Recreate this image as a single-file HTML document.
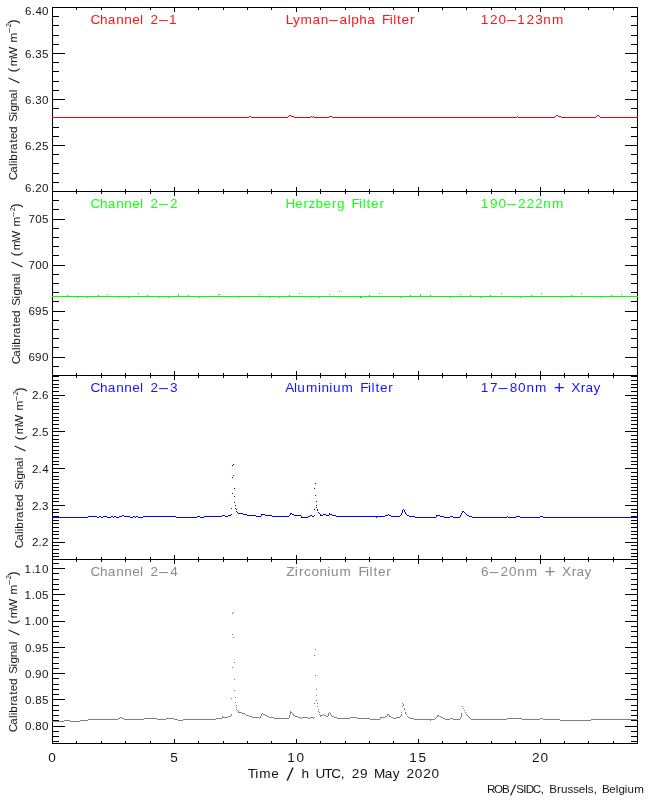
<!DOCTYPE html>
<html lang="en"><head><meta charset="utf-8"><title>Calibrated Signal, 29 May 2020</title>
<style>html,body{margin:0;padding:0;background:#fff;overflow:hidden}svg{display:block;will-change:transform}text{white-space:pre}</style></head>
<body>
<svg width="650" height="800" viewBox="0 0 650 800">
<g shape-rendering="crispEdges">
<path fill="#000" d="M52 7h586v1h-586zM52 191h586v1h-586zM52 375h586v1h-586zM52 559h586v1h-586zM52 743h586v1h-586zM52 7h1v737h-1zM637 7h1v737h-1zM76 8h1v2h-1zM76 189h1v2h-1zM76 192h1v2h-1zM76 373h1v2h-1zM76 376h1v2h-1zM76 557h1v2h-1zM76 560h1v2h-1zM76 741h1v2h-1zM101 8h1v2h-1zM101 189h1v2h-1zM101 192h1v2h-1zM101 373h1v2h-1zM101 376h1v2h-1zM101 557h1v2h-1zM101 560h1v2h-1zM101 741h1v2h-1zM125 8h1v2h-1zM125 189h1v2h-1zM125 192h1v2h-1zM125 373h1v2h-1zM125 376h1v2h-1zM125 557h1v2h-1zM125 560h1v2h-1zM125 741h1v2h-1zM150 8h1v2h-1zM150 189h1v2h-1zM150 192h1v2h-1zM150 373h1v2h-1zM150 376h1v2h-1zM150 557h1v2h-1zM150 560h1v2h-1zM150 741h1v2h-1zM174 8h1v4h-1zM174 187h1v4h-1zM174 192h1v4h-1zM174 371h1v4h-1zM174 376h1v4h-1zM174 555h1v4h-1zM174 560h1v4h-1zM174 739h1v4h-1zM198 8h1v2h-1zM198 189h1v2h-1zM198 192h1v2h-1zM198 373h1v2h-1zM198 376h1v2h-1zM198 557h1v2h-1zM198 560h1v2h-1zM198 741h1v2h-1zM223 8h1v2h-1zM223 189h1v2h-1zM223 192h1v2h-1zM223 373h1v2h-1zM223 376h1v2h-1zM223 557h1v2h-1zM223 560h1v2h-1zM223 741h1v2h-1zM247 8h1v2h-1zM247 189h1v2h-1zM247 192h1v2h-1zM247 373h1v2h-1zM247 376h1v2h-1zM247 557h1v2h-1zM247 560h1v2h-1zM247 741h1v2h-1zM271 8h1v2h-1zM271 189h1v2h-1zM271 192h1v2h-1zM271 373h1v2h-1zM271 376h1v2h-1zM271 557h1v2h-1zM271 560h1v2h-1zM271 741h1v2h-1zM296 8h1v4h-1zM296 187h1v4h-1zM296 192h1v4h-1zM296 371h1v4h-1zM296 376h1v4h-1zM296 555h1v4h-1zM296 560h1v4h-1zM296 739h1v4h-1zM320 8h1v2h-1zM320 189h1v2h-1zM320 192h1v2h-1zM320 373h1v2h-1zM320 376h1v2h-1zM320 557h1v2h-1zM320 560h1v2h-1zM320 741h1v2h-1zM345 8h1v2h-1zM345 189h1v2h-1zM345 192h1v2h-1zM345 373h1v2h-1zM345 376h1v2h-1zM345 557h1v2h-1zM345 560h1v2h-1zM345 741h1v2h-1zM369 8h1v2h-1zM369 189h1v2h-1zM369 192h1v2h-1zM369 373h1v2h-1zM369 376h1v2h-1zM369 557h1v2h-1zM369 560h1v2h-1zM369 741h1v2h-1zM393 8h1v2h-1zM393 189h1v2h-1zM393 192h1v2h-1zM393 373h1v2h-1zM393 376h1v2h-1zM393 557h1v2h-1zM393 560h1v2h-1zM393 741h1v2h-1zM418 8h1v4h-1zM418 187h1v4h-1zM418 192h1v4h-1zM418 371h1v4h-1zM418 376h1v4h-1zM418 555h1v4h-1zM418 560h1v4h-1zM418 739h1v4h-1zM442 8h1v2h-1zM442 189h1v2h-1zM442 192h1v2h-1zM442 373h1v2h-1zM442 376h1v2h-1zM442 557h1v2h-1zM442 560h1v2h-1zM442 741h1v2h-1zM466 8h1v2h-1zM466 189h1v2h-1zM466 192h1v2h-1zM466 373h1v2h-1zM466 376h1v2h-1zM466 557h1v2h-1zM466 560h1v2h-1zM466 741h1v2h-1zM491 8h1v2h-1zM491 189h1v2h-1zM491 192h1v2h-1zM491 373h1v2h-1zM491 376h1v2h-1zM491 557h1v2h-1zM491 560h1v2h-1zM491 741h1v2h-1zM515 8h1v2h-1zM515 189h1v2h-1zM515 192h1v2h-1zM515 373h1v2h-1zM515 376h1v2h-1zM515 557h1v2h-1zM515 560h1v2h-1zM515 741h1v2h-1zM540 8h1v4h-1zM540 187h1v4h-1zM540 192h1v4h-1zM540 371h1v4h-1zM540 376h1v4h-1zM540 555h1v4h-1zM540 560h1v4h-1zM540 739h1v4h-1zM564 8h1v2h-1zM564 189h1v2h-1zM564 192h1v2h-1zM564 373h1v2h-1zM564 376h1v2h-1zM564 557h1v2h-1zM564 560h1v2h-1zM564 741h1v2h-1zM588 8h1v2h-1zM588 189h1v2h-1zM588 192h1v2h-1zM588 373h1v2h-1zM588 376h1v2h-1zM588 557h1v2h-1zM588 560h1v2h-1zM588 741h1v2h-1zM613 8h1v2h-1zM613 189h1v2h-1zM613 192h1v2h-1zM613 373h1v2h-1zM613 376h1v2h-1zM613 557h1v2h-1zM613 560h1v2h-1zM613 741h1v2h-1zM53 16h6v1h-6zM631 16h6v1h-6zM53 25h6v1h-6zM631 25h6v1h-6zM53 35h6v1h-6zM631 35h6v1h-6zM53 44h6v1h-6zM631 44h6v1h-6zM53 53h12v1h-12zM625 53h12v1h-12zM53 62h6v1h-6zM631 62h6v1h-6zM53 71h6v1h-6zM631 71h6v1h-6zM53 81h6v1h-6zM631 81h6v1h-6zM53 90h6v1h-6zM631 90h6v1h-6zM53 99h12v1h-12zM625 99h12v1h-12zM53 108h6v1h-6zM631 108h6v1h-6zM53 117h6v1h-6zM631 117h6v1h-6zM53 127h6v1h-6zM631 127h6v1h-6zM53 136h6v1h-6zM631 136h6v1h-6zM53 145h12v1h-12zM625 145h12v1h-12zM53 154h6v1h-6zM631 154h6v1h-6zM53 163h6v1h-6zM631 163h6v1h-6zM53 173h6v1h-6zM631 173h6v1h-6zM53 182h6v1h-6zM631 182h6v1h-6zM53 200h6v1h-6zM631 200h6v1h-6zM53 209h6v1h-6zM631 209h6v1h-6zM53 219h12v1h-12zM625 219h12v1h-12zM53 228h6v1h-6zM631 228h6v1h-6zM53 237h6v1h-6zM631 237h6v1h-6zM53 246h6v1h-6zM631 246h6v1h-6zM53 255h6v1h-6zM631 255h6v1h-6zM53 265h12v1h-12zM625 265h12v1h-12zM53 274h6v1h-6zM631 274h6v1h-6zM53 283h6v1h-6zM631 283h6v1h-6zM53 292h6v1h-6zM631 292h6v1h-6zM53 301h6v1h-6zM631 301h6v1h-6zM53 311h12v1h-12zM625 311h12v1h-12zM53 320h6v1h-6zM631 320h6v1h-6zM53 329h6v1h-6zM631 329h6v1h-6zM53 338h6v1h-6zM631 338h6v1h-6zM53 347h6v1h-6zM631 347h6v1h-6zM53 357h12v1h-12zM625 357h12v1h-12zM53 366h6v1h-6zM631 366h6v1h-6zM53 556h6v1h-6zM631 556h6v1h-6zM53 553h6v1h-6zM631 553h6v1h-6zM53 549h6v1h-6zM631 549h6v1h-6zM53 545h6v1h-6zM631 545h6v1h-6zM53 542h12v1h-12zM625 542h12v1h-12zM53 538h6v1h-6zM631 538h6v1h-6zM53 534h6v1h-6zM631 534h6v1h-6zM53 531h6v1h-6zM631 531h6v1h-6zM53 527h6v1h-6zM631 527h6v1h-6zM53 523h6v1h-6zM631 523h6v1h-6zM53 520h6v1h-6zM631 520h6v1h-6zM53 516h6v1h-6zM631 516h6v1h-6zM53 512h6v1h-6zM631 512h6v1h-6zM53 509h6v1h-6zM631 509h6v1h-6zM53 505h12v1h-12zM625 505h12v1h-12zM53 501h6v1h-6zM631 501h6v1h-6zM53 498h6v1h-6zM631 498h6v1h-6zM53 494h6v1h-6zM631 494h6v1h-6zM53 490h6v1h-6zM631 490h6v1h-6zM53 487h6v1h-6zM631 487h6v1h-6zM53 483h6v1h-6zM631 483h6v1h-6zM53 479h6v1h-6zM631 479h6v1h-6zM53 476h6v1h-6zM631 476h6v1h-6zM53 472h6v1h-6zM631 472h6v1h-6zM53 468h12v1h-12zM625 468h12v1h-12zM53 464h6v1h-6zM631 464h6v1h-6zM53 461h6v1h-6zM631 461h6v1h-6zM53 457h6v1h-6zM631 457h6v1h-6zM53 453h6v1h-6zM631 453h6v1h-6zM53 450h6v1h-6zM631 450h6v1h-6zM53 446h6v1h-6zM631 446h6v1h-6zM53 442h6v1h-6zM631 442h6v1h-6zM53 439h6v1h-6zM631 439h6v1h-6zM53 435h6v1h-6zM631 435h6v1h-6zM53 431h12v1h-12zM625 431h12v1h-12zM53 428h6v1h-6zM631 428h6v1h-6zM53 424h6v1h-6zM631 424h6v1h-6zM53 420h6v1h-6zM631 420h6v1h-6zM53 417h6v1h-6zM631 417h6v1h-6zM53 413h6v1h-6zM631 413h6v1h-6zM53 409h6v1h-6zM631 409h6v1h-6zM53 406h6v1h-6zM631 406h6v1h-6zM53 402h6v1h-6zM631 402h6v1h-6zM53 398h6v1h-6zM631 398h6v1h-6zM53 395h12v1h-12zM625 395h12v1h-12zM53 391h6v1h-6zM631 391h6v1h-6zM53 387h6v1h-6zM631 387h6v1h-6zM53 384h6v1h-6zM631 384h6v1h-6zM53 380h6v1h-6zM631 380h6v1h-6zM53 376h6v1h-6zM631 376h6v1h-6zM53 741h6v1h-6zM631 741h6v1h-6zM53 736h6v1h-6zM631 736h6v1h-6zM53 731h6v1h-6zM631 731h6v1h-6zM53 726h12v1h-12zM625 726h12v1h-12zM53 720h6v1h-6zM631 720h6v1h-6zM53 715h6v1h-6zM631 715h6v1h-6zM53 710h6v1h-6zM631 710h6v1h-6zM53 705h6v1h-6zM631 705h6v1h-6zM53 699h12v1h-12zM625 699h12v1h-12zM53 694h6v1h-6zM631 694h6v1h-6zM53 689h6v1h-6zM631 689h6v1h-6zM53 684h6v1h-6zM631 684h6v1h-6zM53 678h6v1h-6zM631 678h6v1h-6zM53 673h12v1h-12zM625 673h12v1h-12zM53 668h6v1h-6zM631 668h6v1h-6zM53 663h6v1h-6zM631 663h6v1h-6zM53 657h6v1h-6zM631 657h6v1h-6zM53 652h6v1h-6zM631 652h6v1h-6zM53 647h12v1h-12zM625 647h12v1h-12zM53 642h6v1h-6zM631 642h6v1h-6zM53 636h6v1h-6zM631 636h6v1h-6zM53 631h6v1h-6zM631 631h6v1h-6zM53 626h6v1h-6zM631 626h6v1h-6zM53 621h12v1h-12zM625 621h12v1h-12zM53 615h6v1h-6zM631 615h6v1h-6zM53 610h6v1h-6zM631 610h6v1h-6zM53 605h6v1h-6zM631 605h6v1h-6zM53 600h6v1h-6zM631 600h6v1h-6zM53 594h12v1h-12zM625 594h12v1h-12zM53 589h6v1h-6zM631 589h6v1h-6zM53 584h6v1h-6zM631 584h6v1h-6zM53 579h6v1h-6zM631 579h6v1h-6zM53 573h6v1h-6zM631 573h6v1h-6zM53 568h12v1h-12zM625 568h12v1h-12zM53 563h6v1h-6zM631 563h6v1h-6z"/>
<path fill="#ff0000" d="M52 117h1v1h-1zM53 117h1v1h-1zM54 117h1v1h-1zM55 117h1v1h-1zM56 117h1v1h-1zM57 117h1v1h-1zM58 117h1v1h-1zM59 117h1v1h-1zM60 117h1v1h-1zM61 117h1v1h-1zM62 117h1v1h-1zM63 117h1v1h-1zM64 117h1v1h-1zM65 117h1v1h-1zM66 117h1v1h-1zM67 117h1v1h-1zM68 117h1v1h-1zM69 117h1v1h-1zM70 117h1v1h-1zM71 117h1v1h-1zM72 117h1v1h-1zM73 117h1v1h-1zM74 117h1v1h-1zM75 117h1v1h-1zM76 117h1v1h-1zM77 117h1v1h-1zM78 117h1v1h-1zM79 117h1v1h-1zM80 117h1v1h-1zM81 117h1v1h-1zM82 117h1v1h-1zM83 117h1v1h-1zM84 117h1v1h-1zM85 117h1v1h-1zM86 117h1v1h-1zM87 117h1v1h-1zM88 117h1v1h-1zM89 117h1v1h-1zM90 117h1v1h-1zM91 117h1v1h-1zM92 117h1v1h-1zM93 117h1v1h-1zM94 117h1v1h-1zM95 117h1v1h-1zM96 117h1v1h-1zM97 117h1v1h-1zM98 117h1v1h-1zM99 117h1v1h-1zM100 117h1v1h-1zM101 117h1v1h-1zM102 117h1v1h-1zM103 117h1v1h-1zM104 117h1v1h-1zM105 117h1v1h-1zM106 117h1v1h-1zM107 117h1v1h-1zM108 117h1v1h-1zM109 117h1v1h-1zM110 117h1v1h-1zM111 117h1v1h-1zM112 117h1v1h-1zM113 117h1v1h-1zM114 117h1v1h-1zM115 117h1v1h-1zM116 117h1v1h-1zM117 117h1v1h-1zM118 117h1v1h-1zM119 117h1v1h-1zM120 117h1v1h-1zM121 117h1v1h-1zM122 117h1v1h-1zM123 117h1v1h-1zM124 117h1v1h-1zM125 117h1v1h-1zM126 117h1v1h-1zM127 117h1v1h-1zM128 117h1v1h-1zM129 117h1v1h-1zM130 117h1v1h-1zM131 117h1v1h-1zM132 117h1v1h-1zM133 117h1v1h-1zM134 117h1v1h-1zM135 117h1v1h-1zM136 117h1v1h-1zM137 117h1v1h-1zM138 117h1v1h-1zM139 117h1v1h-1zM140 117h1v1h-1zM141 117h1v1h-1zM142 117h1v1h-1zM143 117h1v1h-1zM144 117h1v1h-1zM145 117h1v1h-1zM146 117h1v1h-1zM147 117h1v1h-1zM148 117h1v1h-1zM149 117h1v1h-1zM150 117h1v1h-1zM151 117h1v1h-1zM152 117h1v1h-1zM153 117h1v1h-1zM154 117h1v1h-1zM155 117h1v1h-1zM156 117h1v1h-1zM157 117h1v1h-1zM158 117h1v1h-1zM159 117h1v1h-1zM160 117h1v1h-1zM161 117h1v1h-1zM162 117h1v1h-1zM163 117h1v1h-1zM164 117h1v1h-1zM165 117h1v1h-1zM166 117h1v1h-1zM167 117h1v1h-1zM168 117h1v1h-1zM169 117h1v1h-1zM170 117h1v1h-1zM171 117h1v1h-1zM172 117h1v1h-1zM173 117h1v1h-1zM174 117h1v1h-1zM175 117h1v1h-1zM176 117h1v1h-1zM177 117h1v1h-1zM178 117h1v1h-1zM179 117h1v1h-1zM180 117h1v1h-1zM181 117h1v1h-1zM182 117h1v1h-1zM183 117h1v1h-1zM184 117h1v1h-1zM185 117h1v1h-1zM186 117h1v1h-1zM187 117h1v1h-1zM188 117h1v1h-1zM189 117h1v1h-1zM190 117h1v1h-1zM191 117h1v1h-1zM192 117h1v1h-1zM193 117h1v1h-1zM194 117h1v1h-1zM195 117h1v1h-1zM196 117h1v1h-1zM197 117h1v1h-1zM198 117h1v1h-1zM199 117h1v1h-1zM200 117h1v1h-1zM201 117h1v1h-1zM202 117h1v1h-1zM203 117h1v1h-1zM204 117h1v1h-1zM205 117h1v1h-1zM206 117h1v1h-1zM207 117h1v1h-1zM208 117h1v1h-1zM209 117h1v1h-1zM210 117h1v1h-1zM211 117h1v1h-1zM212 117h1v1h-1zM213 117h1v1h-1zM214 117h1v1h-1zM215 117h1v1h-1zM216 117h1v1h-1zM217 117h1v1h-1zM218 117h1v1h-1zM219 117h1v1h-1zM220 117h1v1h-1zM221 117h1v1h-1zM222 117h1v1h-1zM223 117h1v1h-1zM224 117h1v1h-1zM225 117h1v1h-1zM226 117h1v1h-1zM227 117h1v1h-1zM228 117h1v1h-1zM229 117h1v1h-1zM230 117h1v1h-1zM231 117h1v1h-1zM232 117h1v1h-1zM233 117h1v1h-1zM234 117h1v1h-1zM235 117h1v1h-1zM236 117h1v1h-1zM237 117h1v1h-1zM238 117h1v1h-1zM239 117h1v1h-1zM240 117h1v1h-1zM241 117h1v1h-1zM242 117h1v1h-1zM243 117h1v1h-1zM244 117h1v1h-1zM245 117h1v1h-1zM246 117h1v1h-1zM247 117h1v1h-1zM248 117h1v1h-1zM249 116h1v1h-1zM250 116h1v1h-1zM251 117h1v1h-1zM252 117h1v1h-1zM253 117h1v1h-1zM254 117h1v1h-1zM255 117h1v1h-1zM256 117h1v1h-1zM257 117h1v1h-1zM258 117h1v1h-1zM259 117h1v1h-1zM260 117h1v1h-1zM261 117h1v1h-1zM262 117h1v1h-1zM263 117h1v1h-1zM264 117h1v1h-1zM265 117h1v1h-1zM266 117h1v1h-1zM267 117h1v1h-1zM268 117h1v1h-1zM269 117h1v1h-1zM270 117h1v1h-1zM271 117h1v1h-1zM272 117h1v1h-1zM273 117h1v1h-1zM274 117h1v1h-1zM275 117h1v1h-1zM276 117h1v1h-1zM277 117h1v1h-1zM278 117h1v1h-1zM279 117h1v1h-1zM280 117h1v1h-1zM281 117h1v1h-1zM282 117h1v1h-1zM283 117h1v1h-1zM284 117h1v1h-1zM285 117h1v1h-1zM286 117h1v1h-1zM287 117h1v1h-1zM288 116h1v1h-1zM289 115h1v1h-1zM290 115h1v1h-1zM291 116h1v1h-1zM292 116h1v1h-1zM293 116h1v1h-1zM294 117h1v1h-1zM295 117h1v1h-1zM296 117h1v1h-1zM297 117h1v1h-1zM298 117h1v1h-1zM299 117h1v1h-1zM300 117h1v1h-1zM301 117h1v1h-1zM302 117h1v1h-1zM303 117h1v1h-1zM304 117h1v1h-1zM305 117h1v1h-1zM306 117h1v1h-1zM307 117h1v1h-1zM308 117h1v1h-1zM309 117h1v1h-1zM310 117h1v1h-1zM311 116h1v1h-1zM312 117h1v1h-1zM313 116h1v1h-1zM314 117h1v1h-1zM315 117h1v1h-1zM316 117h1v1h-1zM317 117h1v1h-1zM318 117h1v1h-1zM319 117h1v1h-1zM320 117h1v1h-1zM321 117h1v1h-1zM322 117h1v1h-1zM323 117h1v1h-1zM324 117h1v1h-1zM325 117h1v1h-1zM326 117h1v1h-1zM327 117h1v1h-1zM328 117h1v1h-1zM329 116h1v1h-1zM330 116h1v1h-1zM331 116h1v1h-1zM332 117h1v1h-1zM333 117h1v1h-1zM334 117h1v1h-1zM335 117h1v1h-1zM336 117h1v1h-1zM337 117h1v1h-1zM338 117h1v1h-1zM339 117h1v1h-1zM340 117h1v1h-1zM341 117h1v1h-1zM342 117h1v1h-1zM343 117h1v1h-1zM344 117h1v1h-1zM345 117h1v1h-1zM346 117h1v1h-1zM347 117h1v1h-1zM348 117h1v1h-1zM349 117h1v1h-1zM350 117h1v1h-1zM351 117h1v1h-1zM352 117h1v1h-1zM353 117h1v1h-1zM354 117h1v1h-1zM355 117h1v1h-1zM356 117h1v1h-1zM357 117h1v1h-1zM358 117h1v1h-1zM359 117h1v1h-1zM360 117h1v1h-1zM361 117h1v1h-1zM362 117h1v1h-1zM363 117h1v1h-1zM364 117h1v1h-1zM365 117h1v1h-1zM366 117h1v1h-1zM367 117h1v1h-1zM368 117h1v1h-1zM369 117h1v1h-1zM370 117h1v1h-1zM371 117h1v1h-1zM372 117h1v1h-1zM373 117h1v1h-1zM374 117h1v1h-1zM375 117h1v1h-1zM376 117h1v1h-1zM377 117h1v1h-1zM378 117h1v1h-1zM379 117h1v1h-1zM380 117h1v1h-1zM381 117h1v1h-1zM382 117h1v1h-1zM383 117h1v1h-1zM384 117h1v1h-1zM385 117h1v1h-1zM386 117h1v1h-1zM387 117h1v1h-1zM388 117h1v1h-1zM389 117h1v1h-1zM390 117h1v1h-1zM391 117h1v1h-1zM392 117h1v1h-1zM393 117h1v1h-1zM394 117h1v1h-1zM395 117h1v1h-1zM396 117h1v1h-1zM397 117h1v1h-1zM398 117h1v1h-1zM399 117h1v1h-1zM400 117h1v1h-1zM401 117h1v1h-1zM402 117h1v1h-1zM403 117h1v1h-1zM404 117h1v1h-1zM405 117h1v1h-1zM406 117h1v1h-1zM407 117h1v1h-1zM408 117h1v1h-1zM409 117h1v1h-1zM410 117h1v1h-1zM411 117h1v1h-1zM412 117h1v1h-1zM413 117h1v1h-1zM414 117h1v1h-1zM415 117h1v1h-1zM416 117h1v1h-1zM417 117h1v1h-1zM418 117h1v1h-1zM419 117h1v1h-1zM420 117h1v1h-1zM421 117h1v1h-1zM422 117h1v1h-1zM423 117h1v1h-1zM424 117h1v1h-1zM425 117h1v1h-1zM426 117h1v1h-1zM427 117h1v1h-1zM428 117h1v1h-1zM429 117h1v1h-1zM430 117h1v1h-1zM431 117h1v1h-1zM432 117h1v1h-1zM433 117h1v1h-1zM434 117h1v1h-1zM435 117h1v1h-1zM436 117h1v1h-1zM437 117h1v1h-1zM438 117h1v1h-1zM439 117h1v1h-1zM440 117h1v1h-1zM441 117h1v1h-1zM442 117h1v1h-1zM443 117h1v1h-1zM444 117h1v1h-1zM445 117h1v1h-1zM446 117h1v1h-1zM447 117h1v1h-1zM448 117h1v1h-1zM449 117h1v1h-1zM450 117h1v1h-1zM451 117h1v1h-1zM452 117h1v1h-1zM453 117h1v1h-1zM454 117h1v1h-1zM455 117h1v1h-1zM456 117h1v1h-1zM457 117h1v1h-1zM458 117h1v1h-1zM459 117h1v1h-1zM460 117h1v1h-1zM461 117h1v1h-1zM462 117h1v1h-1zM463 117h1v1h-1zM464 117h1v1h-1zM465 117h1v1h-1zM466 117h1v1h-1zM467 117h1v1h-1zM468 117h1v1h-1zM469 117h1v1h-1zM470 117h1v1h-1zM471 117h1v1h-1zM472 117h1v1h-1zM473 117h1v1h-1zM474 117h1v1h-1zM475 117h1v1h-1zM476 117h1v1h-1zM477 117h1v1h-1zM478 117h1v1h-1zM479 117h1v1h-1zM480 117h1v1h-1zM481 117h1v1h-1zM482 117h1v1h-1zM483 117h1v1h-1zM484 117h1v1h-1zM485 117h1v1h-1zM486 117h1v1h-1zM487 117h1v1h-1zM488 117h1v1h-1zM489 117h1v1h-1zM490 117h1v1h-1zM491 117h1v1h-1zM492 117h1v1h-1zM493 117h1v1h-1zM494 117h1v1h-1zM495 117h1v1h-1zM496 117h1v1h-1zM497 117h1v1h-1zM498 117h1v1h-1zM499 117h1v1h-1zM500 117h1v1h-1zM501 117h1v1h-1zM502 117h1v1h-1zM503 117h1v1h-1zM504 117h1v1h-1zM505 117h1v1h-1zM506 117h1v1h-1zM507 117h1v1h-1zM508 117h1v1h-1zM509 117h1v1h-1zM510 117h1v1h-1zM511 117h1v1h-1zM512 117h1v1h-1zM513 117h1v1h-1zM514 117h1v1h-1zM515 117h1v1h-1zM516 117h1v1h-1zM517 116h1v1h-1zM518 117h1v1h-1zM519 117h1v1h-1zM520 117h1v1h-1zM521 117h1v1h-1zM522 117h1v1h-1zM523 117h1v1h-1zM524 117h1v1h-1zM525 117h1v1h-1zM526 117h1v1h-1zM527 117h1v1h-1zM528 117h1v1h-1zM529 117h1v1h-1zM530 117h1v1h-1zM531 117h1v1h-1zM532 117h1v1h-1zM533 117h1v1h-1zM534 117h1v1h-1zM535 117h1v1h-1zM536 117h1v1h-1zM537 117h1v1h-1zM538 117h1v1h-1zM539 117h1v1h-1zM540 117h1v1h-1zM541 117h1v1h-1zM542 117h1v1h-1zM543 117h1v1h-1zM544 117h1v1h-1zM545 117h1v1h-1zM546 117h1v1h-1zM547 117h1v1h-1zM548 117h1v1h-1zM549 117h1v1h-1zM550 117h1v1h-1zM551 117h1v1h-1zM552 117h1v1h-1zM553 117h1v1h-1zM554 117h1v1h-1zM555 116h1v1h-1zM556 115h1v1h-1zM557 115h1v1h-1zM558 116h1v1h-1zM559 116h1v1h-1zM560 116h1v1h-1zM561 117h1v1h-1zM562 117h1v1h-1zM563 117h1v1h-1zM564 117h1v1h-1zM565 117h1v1h-1zM566 117h1v1h-1zM567 117h1v1h-1zM568 117h1v1h-1zM569 117h1v1h-1zM570 117h1v1h-1zM571 117h1v1h-1zM572 117h1v1h-1zM573 117h1v1h-1zM574 117h1v1h-1zM575 117h1v1h-1zM576 117h1v1h-1zM577 117h1v1h-1zM578 117h1v1h-1zM579 117h1v1h-1zM580 117h1v1h-1zM581 117h1v1h-1zM582 117h1v1h-1zM583 117h1v1h-1zM584 117h1v1h-1zM585 117h1v1h-1zM586 117h1v1h-1zM587 117h1v1h-1zM588 117h1v1h-1zM589 117h1v1h-1zM590 117h1v1h-1zM591 117h1v1h-1zM592 117h1v1h-1zM593 117h1v1h-1zM594 117h1v1h-1zM595 117h1v1h-1zM596 116h1v1h-1zM597 115h1v1h-1zM598 115h1v1h-1zM599 116h1v1h-1zM600 117h1v1h-1zM601 117h1v1h-1zM602 117h1v1h-1zM603 117h1v1h-1zM604 117h1v1h-1zM605 117h1v1h-1zM606 117h1v1h-1zM607 117h1v1h-1zM608 117h1v1h-1zM609 117h1v1h-1zM610 117h1v1h-1zM611 117h1v1h-1zM612 117h1v1h-1zM613 117h1v1h-1zM614 117h1v1h-1zM615 117h1v1h-1zM616 117h1v1h-1zM617 117h1v1h-1zM618 117h1v1h-1zM619 117h1v1h-1zM620 117h1v1h-1zM621 117h1v1h-1zM622 117h1v1h-1zM623 117h1v1h-1zM624 117h1v1h-1zM625 117h1v1h-1zM626 117h1v1h-1zM627 117h1v1h-1zM628 117h1v1h-1zM629 117h1v1h-1zM630 117h1v1h-1zM631 117h1v1h-1zM632 117h1v1h-1zM633 117h1v1h-1zM634 117h1v1h-1zM635 117h1v1h-1zM636 117h1v1h-1zM637 117h1v1h-1z"/>
<path fill="#00ff00" d="M52 296h586v1h-586zM67 295h1v1h-1zM98 295h1v1h-1zM107 294h1v1h-1zM138 293h1v1h-1zM147 295h1v1h-1zM178 294h1v1h-1zM178 295h1v1h-1zM188 295h1v1h-1zM218 294h1v1h-1zM219 294h1v1h-1zM77 297h1v1h-1zM87 297h1v1h-1zM118 297h1v1h-1zM128 297h1v1h-1zM158 297h1v1h-1zM168 297h1v1h-1zM199 297h1v1h-1zM238 297h1v1h-1zM259 294h1v1h-1zM289 295h1v1h-1zM299 293h1v1h-1zM329 294h1v1h-1zM339 291h1v1h-1zM369 295h1v1h-1zM379 293h1v1h-1zM410 295h1v1h-1zM420 294h1v1h-1zM420 295h1v1h-1zM430 295h1v1h-1zM269 297h1v1h-1zM279 297h1v1h-1zM310 297h1v1h-1zM319 297h1v1h-1zM360 297h1v1h-1zM361 297h1v1h-1zM400 297h1v1h-1zM460 294h1v1h-1zM470 295h1v1h-1zM490 295h1v1h-1zM501 293h1v1h-1zM531 295h1v1h-1zM541 293h1v1h-1zM571 295h1v1h-1zM581 293h1v1h-1zM611 295h1v1h-1zM621 294h1v1h-1zM450 297h1v1h-1zM480 297h1v1h-1zM520 297h1v1h-1zM561 297h1v1h-1zM601 297h1v1h-1z"/>
<path fill="#0000ff" d="M52 517h1v1h-1zM53 517h1v1h-1zM54 517h1v1h-1zM55 517h1v1h-1zM56 517h1v1h-1zM57 517h1v1h-1zM58 517h1v1h-1zM59 517h1v1h-1zM60 517h1v1h-1zM61 517h1v1h-1zM62 517h1v1h-1zM63 517h1v1h-1zM64 517h1v1h-1zM65 517h1v1h-1zM66 517h1v1h-1zM67 517h1v1h-1zM68 517h1v1h-1zM69 517h1v1h-1zM70 517h1v1h-1zM71 517h1v1h-1zM72 517h1v1h-1zM73 517h1v1h-1zM74 517h1v1h-1zM75 517h1v1h-1zM76 517h1v1h-1zM77 517h1v1h-1zM78 517h1v1h-1zM79 517h1v1h-1zM80 517h1v1h-1zM81 517h1v1h-1zM82 517h1v1h-1zM83 517h1v1h-1zM84 517h1v1h-1zM85 517h1v1h-1zM86 517h1v1h-1zM87 517h1v1h-1zM88 516h1v1h-1zM89 516h1v1h-1zM90 516h1v1h-1zM91 516h1v1h-1zM92 516h1v1h-1zM93 516h1v1h-1zM94 516h1v1h-1zM95 516h1v1h-1zM96 516h1v1h-1zM97 517h1v1h-1zM98 517h1v1h-1zM99 516h1v1h-1zM100 516h1v1h-1zM101 517h1v1h-1zM102 517h1v1h-1zM103 516h1v1h-1zM104 516h1v1h-1zM105 516h1v1h-1zM106 516h1v1h-1zM107 517h1v1h-1zM108 517h1v1h-1zM109 517h1v1h-1zM110 517h1v1h-1zM111 516h1v1h-1zM112 516h1v1h-1zM113 517h1v1h-1zM114 516h1v1h-1zM115 516h1v1h-1zM116 517h1v1h-1zM117 517h1v1h-1zM118 517h1v1h-1zM119 516h1v1h-1zM120 516h1v1h-1zM121 516h1v1h-1zM122 515h1v1h-1zM123 515h1v1h-1zM124 516h1v1h-1zM125 516h1v1h-1zM126 516h1v1h-1zM127 516h1v1h-1zM128 516h1v1h-1zM129 516h1v1h-1zM130 517h1v1h-1zM131 517h1v1h-1zM132 517h1v1h-1zM133 516h1v1h-1zM134 516h1v1h-1zM135 517h1v1h-1zM136 516h1v1h-1zM137 516h1v1h-1zM138 517h1v1h-1zM139 517h1v1h-1zM140 517h1v1h-1zM141 517h1v1h-1zM142 517h1v1h-1zM143 516h1v1h-1zM144 516h1v1h-1zM145 516h1v1h-1zM146 516h1v1h-1zM147 516h1v1h-1zM148 516h1v1h-1zM149 516h1v1h-1zM150 516h1v1h-1zM151 516h1v1h-1zM152 516h1v1h-1zM153 516h1v1h-1zM154 516h1v1h-1zM155 516h1v1h-1zM156 516h1v1h-1zM157 516h1v1h-1zM158 516h1v1h-1zM159 516h1v1h-1zM160 516h1v1h-1zM161 516h1v1h-1zM162 516h1v1h-1zM163 516h1v1h-1zM164 516h1v1h-1zM165 516h1v1h-1zM166 516h1v1h-1zM167 516h1v1h-1zM168 516h1v1h-1zM169 516h1v1h-1zM170 516h1v1h-1zM171 516h1v1h-1zM172 516h1v1h-1zM173 516h1v1h-1zM174 516h1v1h-1zM175 516h1v1h-1zM176 517h1v1h-1zM177 517h1v1h-1zM178 517h1v1h-1zM179 517h1v1h-1zM180 517h1v1h-1zM181 517h1v1h-1zM182 517h1v1h-1zM183 517h1v1h-1zM184 517h1v1h-1zM185 517h1v1h-1zM186 517h1v1h-1zM187 517h1v1h-1zM188 517h1v1h-1zM189 517h1v1h-1zM190 517h1v1h-1zM191 517h1v1h-1zM192 517h1v1h-1zM193 517h1v1h-1zM194 517h1v1h-1zM195 517h1v1h-1zM196 517h1v1h-1zM197 516h1v1h-1zM198 516h1v1h-1zM199 516h1v1h-1zM200 517h1v1h-1zM201 517h1v1h-1zM202 517h1v1h-1zM203 517h1v1h-1zM204 516h1v1h-1zM205 516h1v1h-1zM206 516h1v1h-1zM207 516h1v1h-1zM208 516h1v1h-1zM209 516h1v1h-1zM210 516h1v1h-1zM211 516h1v1h-1zM212 516h1v1h-1zM213 516h1v1h-1zM214 516h1v1h-1zM215 516h1v1h-1zM216 516h1v1h-1zM217 516h1v1h-1zM218 516h1v1h-1zM219 516h1v1h-1zM220 516h1v1h-1zM221 516h1v1h-1zM222 515h1v1h-1zM223 515h1v1h-1zM224 515h1v1h-1zM225 516h1v1h-1zM226 516h1v1h-1zM227 516h1v1h-1zM228 515h1v1h-1zM229 515h1v1h-1zM230 515h1v1h-1zM231 514h1v1h-1zM238 513h1v1h-1zM239 513h1v1h-1zM240 513h1v1h-1zM241 513h1v1h-1zM242 513h1v1h-1zM243 514h1v1h-1zM244 514h1v1h-1zM245 514h1v1h-1zM246 514h1v1h-1zM247 515h1v1h-1zM248 515h1v1h-1zM249 515h1v1h-1zM250 515h1v1h-1zM251 515h1v1h-1zM252 515h1v1h-1zM253 515h1v1h-1zM254 515h1v1h-1zM255 515h1v1h-1zM256 516h1v1h-1zM257 516h1v1h-1zM258 516h1v1h-1zM259 516h1v1h-1zM260 516h1v1h-1zM261 514h1v1h-1zM261 515h1v1h-1zM262 514h1v1h-1zM263 514h1v1h-1zM264 514h1v1h-1zM265 515h1v1h-1zM266 515h1v1h-1zM267 515h1v1h-1zM268 515h1v1h-1zM269 515h1v1h-1zM270 515h1v1h-1zM271 515h1v1h-1zM272 516h1v1h-1zM273 516h1v1h-1zM274 516h1v1h-1zM275 516h1v1h-1zM276 516h1v1h-1zM277 516h1v1h-1zM278 516h1v1h-1zM279 516h1v1h-1zM280 516h1v1h-1zM281 516h1v1h-1zM282 516h1v1h-1zM283 516h1v1h-1zM284 516h1v1h-1zM285 516h1v1h-1zM286 516h1v1h-1zM287 516h1v1h-1zM288 516h1v1h-1zM289 515h1v1h-1zM290 513h1v1h-1zM290 514h1v1h-1zM291 513h1v1h-1zM292 514h1v1h-1zM293 514h1v1h-1zM294 515h1v1h-1zM295 515h1v1h-1zM296 515h1v1h-1zM297 515h1v1h-1zM298 515h1v1h-1zM299 515h1v1h-1zM300 515h1v1h-1zM301 517h1v1h-1zM301 516h1v1h-1zM302 517h1v1h-1zM303 517h1v1h-1zM304 517h1v1h-1zM305 517h1v1h-1zM306 517h1v1h-1zM307 517h1v1h-1zM308 516h1v1h-1zM309 516h1v1h-1zM310 515h1v1h-1zM311 515h1v1h-1zM312 516h1v1h-1zM313 516h1v1h-1zM314 515h1v1h-1zM320 515h1v1h-1zM321 515h1v1h-1zM322 515h1v1h-1zM323 514h1v1h-1zM324 514h1v1h-1zM325 514h1v1h-1zM326 515h1v1h-1zM327 515h1v1h-1zM328 515h1v1h-1zM329 513h1v1h-1zM329 514h1v1h-1zM330 514h1v1h-1zM331 514h1v1h-1zM332 515h1v1h-1zM333 515h1v1h-1zM334 515h1v1h-1zM335 515h1v1h-1zM336 516h1v1h-1zM337 516h1v1h-1zM338 516h1v1h-1zM339 516h1v1h-1zM340 516h1v1h-1zM341 516h1v1h-1zM342 516h1v1h-1zM343 516h1v1h-1zM344 516h1v1h-1zM345 516h1v1h-1zM346 516h1v1h-1zM347 516h1v1h-1zM348 516h1v1h-1zM349 516h1v1h-1zM350 516h1v1h-1zM351 516h1v1h-1zM352 516h1v1h-1zM353 516h1v1h-1zM354 516h1v1h-1zM355 516h1v1h-1zM356 516h1v1h-1zM357 516h1v1h-1zM358 516h1v1h-1zM359 516h1v1h-1zM360 516h1v1h-1zM361 516h1v1h-1zM362 516h1v1h-1zM363 516h1v1h-1zM364 516h1v1h-1zM365 516h1v1h-1zM366 516h1v1h-1zM367 516h1v1h-1zM368 516h1v1h-1zM369 516h1v1h-1zM370 516h1v1h-1zM371 516h1v1h-1zM372 516h1v1h-1zM373 516h1v1h-1zM374 516h1v1h-1zM375 516h1v1h-1zM376 516h1v1h-1zM377 516h1v1h-1zM378 516h1v1h-1zM379 516h1v1h-1zM380 516h1v1h-1zM381 516h1v1h-1zM382 516h1v1h-1zM383 516h1v1h-1zM384 516h1v1h-1zM385 515h1v1h-1zM386 515h1v1h-1zM387 515h1v1h-1zM388 514h1v1h-1zM389 515h1v1h-1zM390 515h1v1h-1zM391 516h1v1h-1zM392 516h1v1h-1zM393 516h1v1h-1zM394 516h1v1h-1zM395 516h1v1h-1zM396 516h1v1h-1zM397 516h1v1h-1zM398 516h1v1h-1zM399 516h1v1h-1zM400 515h1v1h-1zM401 513h1v1h-1zM401 514h1v1h-1zM402 510h1v1h-1zM402 511h1v2h-1zM403 509h1v1h-1zM404 511h1v1h-1zM404 510h1v1h-1zM405 513h1v1h-1zM405 512h1v1h-1zM406 514h1v1h-1zM407 515h1v1h-1zM408 515h1v1h-1zM409 516h1v1h-1zM410 516h1v1h-1zM411 516h1v1h-1zM412 516h1v1h-1zM413 516h1v1h-1zM414 516h1v1h-1zM415 517h1v1h-1zM416 517h1v1h-1zM417 517h1v1h-1zM418 517h1v1h-1zM419 517h1v1h-1zM420 517h1v1h-1zM421 517h1v1h-1zM422 517h1v1h-1zM423 517h1v1h-1zM424 517h1v1h-1zM425 517h1v1h-1zM426 517h1v1h-1zM427 517h1v1h-1zM428 517h1v1h-1zM429 517h1v1h-1zM430 517h1v1h-1zM431 517h1v1h-1zM432 517h1v1h-1zM433 517h1v1h-1zM434 517h1v1h-1zM435 517h1v1h-1zM436 515h1v1h-1zM436 516h1v1h-1zM437 515h1v1h-1zM438 515h1v1h-1zM439 515h1v1h-1zM440 516h1v1h-1zM441 516h1v1h-1zM442 516h1v1h-1zM443 516h1v1h-1zM444 517h1v1h-1zM445 517h1v1h-1zM446 517h1v1h-1zM447 517h1v1h-1zM448 517h1v1h-1zM449 517h1v1h-1zM450 516h1v1h-1zM451 516h1v1h-1zM452 516h1v1h-1zM453 517h1v1h-1zM454 517h1v1h-1zM455 517h1v1h-1zM456 517h1v1h-1zM457 517h1v1h-1zM458 517h1v1h-1zM459 517h1v1h-1zM460 515h1v1h-1zM460 516h1v1h-1zM461 513h1v1h-1zM461 514h1v1h-1zM462 511h1v1h-1zM462 512h1v1h-1zM463 511h1v1h-1zM464 512h1v1h-1zM465 513h1v1h-1zM466 514h1v1h-1zM467 515h1v1h-1zM468 515h1v1h-1zM469 516h1v1h-1zM470 516h1v1h-1zM471 516h1v1h-1zM472 517h1v1h-1zM473 517h1v1h-1zM474 517h1v1h-1zM475 517h1v1h-1zM476 517h1v1h-1zM477 517h1v1h-1zM478 517h1v1h-1zM479 517h1v1h-1zM480 517h1v1h-1zM481 517h1v1h-1zM482 517h1v1h-1zM483 517h1v1h-1zM484 517h1v1h-1zM485 517h1v1h-1zM486 517h1v1h-1zM487 517h1v1h-1zM488 517h1v1h-1zM489 517h1v1h-1zM490 517h1v1h-1zM491 517h1v1h-1zM492 517h1v1h-1zM493 517h1v1h-1zM494 517h1v1h-1zM495 517h1v1h-1zM496 517h1v1h-1zM497 517h1v1h-1zM498 517h1v1h-1zM499 517h1v1h-1zM500 517h1v1h-1zM501 517h1v1h-1zM502 517h1v1h-1zM503 517h1v1h-1zM504 517h1v1h-1zM505 517h1v1h-1zM506 517h1v1h-1zM507 516h1v1h-1zM508 517h1v1h-1zM509 517h1v1h-1zM510 517h1v1h-1zM511 517h1v1h-1zM512 517h1v1h-1zM513 517h1v1h-1zM514 517h1v1h-1zM515 517h1v1h-1zM516 516h1v1h-1zM517 516h1v1h-1zM518 516h1v1h-1zM519 516h1v1h-1zM520 517h1v1h-1zM521 517h1v1h-1zM522 517h1v1h-1zM523 517h1v1h-1zM524 517h1v1h-1zM525 517h1v1h-1zM526 517h1v1h-1zM527 517h1v1h-1zM528 517h1v1h-1zM529 517h1v1h-1zM530 517h1v1h-1zM531 517h1v1h-1zM532 517h1v1h-1zM533 517h1v1h-1zM534 517h1v1h-1zM535 517h1v1h-1zM536 517h1v1h-1zM537 517h1v1h-1zM538 517h1v1h-1zM539 517h1v1h-1zM540 516h1v1h-1zM541 516h1v1h-1zM542 516h1v1h-1zM543 517h1v1h-1zM544 517h1v1h-1zM545 517h1v1h-1zM546 517h1v1h-1zM547 517h1v1h-1zM548 517h1v1h-1zM549 517h1v1h-1zM550 517h1v1h-1zM551 517h1v1h-1zM552 517h1v1h-1zM553 517h1v1h-1zM554 517h1v1h-1zM555 517h1v1h-1zM556 517h1v1h-1zM557 517h1v1h-1zM558 517h1v1h-1zM559 517h1v1h-1zM560 517h1v1h-1zM561 517h1v1h-1zM562 517h1v1h-1zM563 517h1v1h-1zM564 517h1v1h-1zM565 517h1v1h-1zM566 517h1v1h-1zM567 517h1v1h-1zM568 517h1v1h-1zM569 517h1v1h-1zM570 517h1v1h-1zM571 517h1v1h-1zM572 517h1v1h-1zM573 517h1v1h-1zM574 517h1v1h-1zM575 517h1v1h-1zM576 517h1v1h-1zM577 517h1v1h-1zM578 517h1v1h-1zM579 517h1v1h-1zM580 517h1v1h-1zM581 517h1v1h-1zM582 517h1v1h-1zM583 517h1v1h-1zM584 517h1v1h-1zM585 517h1v1h-1zM586 517h1v1h-1zM587 517h1v1h-1zM588 517h1v1h-1zM589 517h1v1h-1zM590 517h1v1h-1zM591 517h1v1h-1zM592 517h1v1h-1zM593 517h1v1h-1zM594 517h1v1h-1zM595 517h1v1h-1zM596 517h1v1h-1zM597 517h1v1h-1zM598 517h1v1h-1zM599 517h1v1h-1zM600 517h1v1h-1zM601 517h1v1h-1zM602 517h1v1h-1zM603 517h1v1h-1zM604 517h1v1h-1zM605 517h1v1h-1zM606 517h1v1h-1zM607 517h1v1h-1zM608 517h1v1h-1zM609 517h1v1h-1zM610 517h1v1h-1zM611 517h1v1h-1zM612 517h1v1h-1zM613 517h1v1h-1zM614 517h1v1h-1zM615 517h1v1h-1zM616 517h1v1h-1zM617 517h1v1h-1zM618 517h1v1h-1zM619 517h1v1h-1zM620 517h1v1h-1zM621 517h1v1h-1zM622 517h1v1h-1zM623 517h1v1h-1zM624 517h1v1h-1zM625 517h1v1h-1zM626 517h1v1h-1zM627 517h1v1h-1zM628 517h1v1h-1zM629 517h1v1h-1zM630 517h1v1h-1zM631 517h1v1h-1zM632 517h1v1h-1zM633 517h1v1h-1zM634 517h1v1h-1zM635 517h1v1h-1zM636 517h1v1h-1zM637 517h1v1h-1zM376 517h1v1h-1zM233 464h1v1h-1zM232 465h1v1h-1zM233 475h1v1h-1zM232 477h1v1h-1zM234 488h1v1h-1zM232 493h1v1h-1zM234 496h1v1h-1zM234 502h1v1h-1zM235 505h1v1h-1zM231 508h1v1h-1zM235 508h1v1h-1zM236 509h1v1h-1zM236 511h1v1h-1zM237 512h1v1h-1zM315 483h1v1h-1zM314 488h1v1h-1zM315 495h1v1h-1zM316 501h1v1h-1zM316 505h1v1h-1zM316 507h1v1h-1zM314 509h1v1h-1zM317 509h1v1h-1zM317 510h1v1h-1zM318 512h1v1h-1zM319 513h1v1h-1zM320 514h1v1h-1z"/>
<path fill="#808080" d="M52 721h1v1h-1zM53 721h1v1h-1zM54 721h1v1h-1zM55 721h1v1h-1zM56 721h1v1h-1zM57 721h1v1h-1zM58 721h1v1h-1zM59 721h1v1h-1zM60 721h1v1h-1zM61 721h1v1h-1zM62 721h1v1h-1zM63 721h1v1h-1zM64 720h1v1h-1zM65 720h1v1h-1zM66 720h1v1h-1zM67 720h1v1h-1zM68 720h1v1h-1zM69 720h1v1h-1zM70 721h1v1h-1zM71 721h1v1h-1zM72 721h1v1h-1zM73 721h1v1h-1zM74 721h1v1h-1zM75 721h1v1h-1zM76 721h1v1h-1zM77 721h1v1h-1zM78 721h1v1h-1zM79 721h1v1h-1zM80 720h1v1h-1zM81 720h1v1h-1zM82 720h1v1h-1zM83 720h1v1h-1zM84 720h1v1h-1zM85 720h1v1h-1zM86 720h1v1h-1zM87 720h1v1h-1zM88 719h1v1h-1zM89 719h1v1h-1zM90 719h1v1h-1zM91 719h1v1h-1zM92 719h1v1h-1zM93 719h1v1h-1zM94 719h1v1h-1zM95 719h1v1h-1zM96 719h1v1h-1zM97 719h1v1h-1zM98 719h1v1h-1zM99 719h1v1h-1zM100 719h1v1h-1zM101 719h1v1h-1zM102 719h1v1h-1zM103 719h1v1h-1zM104 719h1v1h-1zM105 719h1v1h-1zM106 719h1v1h-1zM107 719h1v1h-1zM108 719h1v1h-1zM109 719h1v1h-1zM110 719h1v1h-1zM111 719h1v1h-1zM112 719h1v1h-1zM113 719h1v1h-1zM114 719h1v1h-1zM115 719h1v1h-1zM116 719h1v1h-1zM117 719h1v1h-1zM118 718h1v1h-1zM119 718h1v1h-1zM120 717h1v1h-1zM121 717h1v1h-1zM122 718h1v1h-1zM123 718h1v1h-1zM124 719h1v1h-1zM125 719h1v1h-1zM126 719h1v1h-1zM127 719h1v1h-1zM128 719h1v1h-1zM129 719h1v1h-1zM130 719h1v1h-1zM131 719h1v1h-1zM132 719h1v1h-1zM133 719h1v1h-1zM134 719h1v1h-1zM135 719h1v1h-1zM136 719h1v1h-1zM137 719h1v1h-1zM138 719h1v1h-1zM139 719h1v1h-1zM140 719h1v1h-1zM141 719h1v1h-1zM142 719h1v1h-1zM143 719h1v1h-1zM144 718h1v1h-1zM145 718h1v1h-1zM146 718h1v1h-1zM147 718h1v1h-1zM148 718h1v1h-1zM149 718h1v1h-1zM150 718h1v1h-1zM151 718h1v1h-1zM152 718h1v1h-1zM153 718h1v1h-1zM154 718h1v1h-1zM155 718h1v1h-1zM156 718h1v1h-1zM157 719h1v1h-1zM158 719h1v1h-1zM159 719h1v1h-1zM160 719h1v1h-1zM161 719h1v1h-1zM162 719h1v1h-1zM163 719h1v1h-1zM164 719h1v1h-1zM165 719h1v1h-1zM166 718h1v1h-1zM167 718h1v1h-1zM168 718h1v1h-1zM169 718h1v1h-1zM170 718h1v1h-1zM171 718h1v1h-1zM172 718h1v1h-1zM173 718h1v1h-1zM174 719h1v1h-1zM175 719h1v1h-1zM176 719h1v1h-1zM177 719h1v1h-1zM178 720h1v1h-1zM179 720h1v1h-1zM180 720h1v1h-1zM181 720h1v1h-1zM182 720h1v1h-1zM183 719h1v1h-1zM184 719h1v1h-1zM185 719h1v1h-1zM186 719h1v1h-1zM187 719h1v1h-1zM188 719h1v1h-1zM189 719h1v1h-1zM190 719h1v1h-1zM191 719h1v1h-1zM192 719h1v1h-1zM193 719h1v1h-1zM194 719h1v1h-1zM195 719h1v1h-1zM196 719h1v1h-1zM197 719h1v1h-1zM198 719h1v1h-1zM199 719h1v1h-1zM200 719h1v1h-1zM201 719h1v1h-1zM202 719h1v1h-1zM203 719h1v1h-1zM204 719h1v1h-1zM205 719h1v1h-1zM206 719h1v1h-1zM207 719h1v1h-1zM208 719h1v1h-1zM209 719h1v1h-1zM210 719h1v1h-1zM211 719h1v1h-1zM212 719h1v1h-1zM213 719h1v1h-1zM214 719h1v1h-1zM215 719h1v1h-1zM216 718h1v1h-1zM217 718h1v1h-1zM218 718h1v1h-1zM219 718h1v1h-1zM220 718h1v1h-1zM221 718h1v1h-1zM222 716h1v1h-1zM222 717h1v1h-1zM223 717h1v1h-1zM224 717h1v1h-1zM225 717h1v1h-1zM226 717h1v1h-1zM227 717h1v1h-1zM228 716h1v1h-1zM229 716h1v1h-1zM230 716h1v1h-1zM231 714h1v1h-1zM231 715h1v1h-1zM238 712h1v1h-1zM239 712h1v1h-1zM240 712h1v1h-1zM241 712h1v1h-1zM242 713h1v1h-1zM243 713h1v1h-1zM244 713h1v1h-1zM245 714h1v1h-1zM246 715h1v1h-1zM247 715h1v1h-1zM248 715h1v1h-1zM249 716h1v1h-1zM250 716h1v1h-1zM251 716h1v1h-1zM252 717h1v1h-1zM253 717h1v1h-1zM254 717h1v1h-1zM255 717h1v1h-1zM256 717h1v1h-1zM257 717h1v1h-1zM258 717h1v1h-1zM259 718h1v1h-1zM260 716h1v1h-1zM260 717h1v1h-1zM261 714h1v1h-1zM261 715h1v1h-1zM262 713h1v1h-1zM263 714h1v1h-1zM264 714h1v1h-1zM265 715h1v1h-1zM266 715h1v1h-1zM267 716h1v1h-1zM268 716h1v1h-1zM269 717h1v1h-1zM270 717h1v1h-1zM271 717h1v1h-1zM272 717h1v1h-1zM273 717h1v1h-1zM274 718h1v1h-1zM275 718h1v1h-1zM276 718h1v1h-1zM277 718h1v1h-1zM278 718h1v1h-1zM279 718h1v1h-1zM280 718h1v1h-1zM281 718h1v1h-1zM282 718h1v1h-1zM283 718h1v1h-1zM284 718h1v1h-1zM285 718h1v1h-1zM286 718h1v1h-1zM287 718h1v1h-1zM288 718h1v1h-1zM289 715h1v1h-1zM289 716h1v2h-1zM290 711h1v1h-1zM290 712h1v3h-1zM291 712h1v1h-1zM292 713h1v1h-1zM293 715h1v1h-1zM293 714h1v1h-1zM294 715h1v1h-1zM295 716h1v1h-1zM296 716h1v1h-1zM297 716h1v1h-1zM298 717h1v1h-1zM299 717h1v1h-1zM300 717h1v1h-1zM301 718h1v1h-1zM302 717h1v1h-1zM303 717h1v1h-1zM304 717h1v1h-1zM305 717h1v1h-1zM306 717h1v1h-1zM307 717h1v1h-1zM308 718h1v1h-1zM309 718h1v1h-1zM310 717h1v1h-1zM311 717h1v1h-1zM312 717h1v1h-1zM313 718h1v1h-1zM314 717h1v1h-1zM320 715h1v1h-1zM321 715h1v1h-1zM322 715h1v1h-1zM323 714h1v1h-1zM324 715h1v1h-1zM325 715h1v1h-1zM326 716h1v1h-1zM327 716h1v1h-1zM328 713h1v1h-1zM328 714h1v2h-1zM329 712h1v1h-1zM330 714h1v1h-1zM330 713h1v1h-1zM331 715h1v1h-1zM332 716h1v1h-1zM333 716h1v1h-1zM334 717h1v1h-1zM335 717h1v1h-1zM336 717h1v1h-1zM337 718h1v1h-1zM338 718h1v1h-1zM339 718h1v1h-1zM340 718h1v1h-1zM341 718h1v1h-1zM342 718h1v1h-1zM343 718h1v1h-1zM344 718h1v1h-1zM345 718h1v1h-1zM346 718h1v1h-1zM347 718h1v1h-1zM348 718h1v1h-1zM349 718h1v1h-1zM350 717h1v1h-1zM351 717h1v1h-1zM352 717h1v1h-1zM353 717h1v1h-1zM354 717h1v1h-1zM355 717h1v1h-1zM356 717h1v1h-1zM357 718h1v1h-1zM358 718h1v1h-1zM359 718h1v1h-1zM360 718h1v1h-1zM361 718h1v1h-1zM362 718h1v1h-1zM363 718h1v1h-1zM364 718h1v1h-1zM365 718h1v1h-1zM366 718h1v1h-1zM367 718h1v1h-1zM368 718h1v1h-1zM369 718h1v1h-1zM370 719h1v1h-1zM371 719h1v1h-1zM372 719h1v1h-1zM373 719h1v1h-1zM374 719h1v1h-1zM375 719h1v1h-1zM376 719h1v1h-1zM377 719h1v1h-1zM378 719h1v1h-1zM379 719h1v1h-1zM380 717h1v1h-1zM380 718h1v1h-1zM381 717h1v1h-1zM382 717h1v1h-1zM383 717h1v1h-1zM384 717h1v1h-1zM385 716h1v1h-1zM386 716h1v1h-1zM387 714h1v1h-1zM387 715h1v1h-1zM388 714h1v1h-1zM389 716h1v1h-1zM389 715h1v1h-1zM390 716h1v1h-1zM391 717h1v1h-1zM392 717h1v1h-1zM393 718h1v1h-1zM394 718h1v1h-1zM395 718h1v1h-1zM396 717h1v1h-1zM397 717h1v1h-1zM398 717h1v1h-1zM399 717h1v1h-1zM400 716h1v1h-1zM401 714h1v1h-1zM401 715h1v1h-1zM407 716h1v1h-1zM408 717h1v1h-1zM409 717h1v1h-1zM410 718h1v1h-1zM411 718h1v1h-1zM412 718h1v1h-1zM413 718h1v1h-1zM414 719h1v1h-1zM415 719h1v1h-1zM416 719h1v1h-1zM417 719h1v1h-1zM418 719h1v1h-1zM419 719h1v1h-1zM420 719h1v1h-1zM421 719h1v1h-1zM422 719h1v1h-1zM423 719h1v1h-1zM424 719h1v1h-1zM425 719h1v1h-1zM426 719h1v1h-1zM427 719h1v1h-1zM428 719h1v1h-1zM429 719h1v1h-1zM430 719h1v1h-1zM431 719h1v1h-1zM432 719h1v1h-1zM433 719h1v1h-1zM434 719h1v1h-1zM435 718h1v1h-1zM436 717h1v1h-1zM437 715h1v1h-1zM437 716h1v1h-1zM438 715h1v1h-1zM439 716h1v1h-1zM440 716h1v1h-1zM441 717h1v1h-1zM442 717h1v1h-1zM443 718h1v1h-1zM444 718h1v1h-1zM445 719h1v1h-1zM446 719h1v1h-1zM447 719h1v1h-1zM448 719h1v1h-1zM449 719h1v1h-1zM450 718h1v1h-1zM451 718h1v1h-1zM452 718h1v1h-1zM453 719h1v1h-1zM454 719h1v1h-1zM455 719h1v1h-1zM456 719h1v1h-1zM457 719h1v1h-1zM458 719h1v1h-1zM459 719h1v1h-1zM460 717h1v1h-1zM460 718h1v1h-1zM461 713h1v1h-1zM461 714h1v3h-1zM466 714h1v1h-1zM467 715h1v1h-1zM468 716h1v1h-1zM469 717h1v1h-1zM470 718h1v1h-1zM471 719h1v1h-1zM472 719h1v1h-1zM473 719h1v1h-1zM474 719h1v1h-1zM475 719h1v1h-1zM476 719h1v1h-1zM477 719h1v1h-1zM478 719h1v1h-1zM479 719h1v1h-1zM480 719h1v1h-1zM481 719h1v1h-1zM482 719h1v1h-1zM483 719h1v1h-1zM484 719h1v1h-1zM485 719h1v1h-1zM486 719h1v1h-1zM487 719h1v1h-1zM488 719h1v1h-1zM489 719h1v1h-1zM490 719h1v1h-1zM491 719h1v1h-1zM492 719h1v1h-1zM493 719h1v1h-1zM494 719h1v1h-1zM495 719h1v1h-1zM496 719h1v1h-1zM497 719h1v1h-1zM498 719h1v1h-1zM499 719h1v1h-1zM500 719h1v1h-1zM501 719h1v1h-1zM502 719h1v1h-1zM503 719h1v1h-1zM504 719h1v1h-1zM505 719h1v1h-1zM506 719h1v1h-1zM507 718h1v1h-1zM508 718h1v1h-1zM509 718h1v1h-1zM510 718h1v1h-1zM511 718h1v1h-1zM512 718h1v1h-1zM513 718h1v1h-1zM514 718h1v1h-1zM515 718h1v1h-1zM516 718h1v1h-1zM517 718h1v1h-1zM518 718h1v1h-1zM519 718h1v1h-1zM520 718h1v1h-1zM521 718h1v1h-1zM522 719h1v1h-1zM523 719h1v1h-1zM524 719h1v1h-1zM525 719h1v1h-1zM526 719h1v1h-1zM527 719h1v1h-1zM528 719h1v1h-1zM529 719h1v1h-1zM530 719h1v1h-1zM531 719h1v1h-1zM532 719h1v1h-1zM533 719h1v1h-1zM534 719h1v1h-1zM535 719h1v1h-1zM536 719h1v1h-1zM537 719h1v1h-1zM538 719h1v1h-1zM539 719h1v1h-1zM540 718h1v1h-1zM541 718h1v1h-1zM542 718h1v1h-1zM543 719h1v1h-1zM544 719h1v1h-1zM545 719h1v1h-1zM546 719h1v1h-1zM547 719h1v1h-1zM548 719h1v1h-1zM549 719h1v1h-1zM550 719h1v1h-1zM551 719h1v1h-1zM552 719h1v1h-1zM553 719h1v1h-1zM554 719h1v1h-1zM555 719h1v1h-1zM556 719h1v1h-1zM557 719h1v1h-1zM558 719h1v1h-1zM559 719h1v1h-1zM560 720h1v1h-1zM561 720h1v1h-1zM562 720h1v1h-1zM563 720h1v1h-1zM564 720h1v1h-1zM565 720h1v1h-1zM566 720h1v1h-1zM567 720h1v1h-1zM568 720h1v1h-1zM569 720h1v1h-1zM570 720h1v1h-1zM571 720h1v1h-1zM572 720h1v1h-1zM573 720h1v1h-1zM574 720h1v1h-1zM575 720h1v1h-1zM576 720h1v1h-1zM577 720h1v1h-1zM578 720h1v1h-1zM579 720h1v1h-1zM580 720h1v1h-1zM581 720h1v1h-1zM582 720h1v1h-1zM583 720h1v1h-1zM584 720h1v1h-1zM585 720h1v1h-1zM586 720h1v1h-1zM587 720h1v1h-1zM588 720h1v1h-1zM589 720h1v1h-1zM590 720h1v1h-1zM591 719h1v1h-1zM592 719h1v1h-1zM593 719h1v1h-1zM594 719h1v1h-1zM595 719h1v1h-1zM596 719h1v1h-1zM597 719h1v1h-1zM598 719h1v1h-1zM599 719h1v1h-1zM600 719h1v1h-1zM601 719h1v1h-1zM602 719h1v1h-1zM603 719h1v1h-1zM604 719h1v1h-1zM605 719h1v1h-1zM606 719h1v1h-1zM607 719h1v1h-1zM608 719h1v1h-1zM609 719h1v1h-1zM610 719h1v1h-1zM611 719h1v1h-1zM612 719h1v1h-1zM613 719h1v1h-1zM614 719h1v1h-1zM615 719h1v1h-1zM616 719h1v1h-1zM617 719h1v1h-1zM618 719h1v1h-1zM619 719h1v1h-1zM620 719h1v1h-1zM621 719h1v1h-1zM622 719h1v1h-1zM623 719h1v1h-1zM624 719h1v1h-1zM625 719h1v1h-1zM626 719h1v1h-1zM627 719h1v1h-1zM628 719h1v1h-1zM629 719h1v1h-1zM630 719h1v1h-1zM631 719h1v1h-1zM632 719h1v1h-1zM633 719h1v1h-1zM634 719h1v1h-1zM635 719h1v1h-1zM636 719h1v1h-1zM637 719h1v1h-1zM233 612h1v1h-1zM232 613h1v1h-1zM232 634h1v1h-1zM233 637h1v1h-1zM234 662h1v1h-1zM232 667h1v1h-1zM234 679h1v1h-1zM234 690h1v1h-1zM235 697h1v1h-1zM231 698h1v1h-1zM235 702h1v1h-1zM236 705h1v1h-1zM236 707h1v1h-1zM236 709h1v1h-1zM237 710h1v1h-1zM238 711h1v1h-1zM315 649h1v1h-1zM314 655h1v1h-1zM315 675h1v1h-1zM316 689h1v1h-1zM316 695h1v1h-1zM316 700h1v1h-1zM314 703h1v1h-1zM317 703h1v1h-1zM317 706h1v1h-1zM318 709h1v1h-1zM318 711h1v1h-1zM319 712h1v1h-1zM319 714h1v1h-1zM320 716h1v1h-1zM401 712h1v1h-1zM402 703h1v1h-1zM403 704h1v1h-1zM403 705h1v1h-1zM402 706h1v1h-1zM404 708h1v1h-1zM404 709h1v1h-1zM405 712h1v1h-1zM405 713h1v1h-1zM406 714h1v1h-1zM430 720h1v1h-1zM462 706h1v1h-1zM463 708h1v1h-1zM464 710h1v1h-1zM465 712h1v1h-1z"/>
</g>
<g font-family="'Liberation Sans', sans-serif" fill-opacity="0.92" xml:space="preserve">
<text x="90.38 100.06 107.87 116.21 124.27 132.15 139.92 142.63 150.38 157.42 169.08" y="24.00 24.00 24.00 24.00 24.00 24.00 24.00 24.00 24.00 24.00 24.00" font-size="13.6" fill="#ff0000">Channel 2<tspan textLength="12.01" lengthAdjust="spacingAndGlyphs">-</tspan>1</text>
<text x="285.83 292.91 300.41 312.40 320.75 327.58 339.57 347.85 351.15 359.35 367.15 374.75 382.06 389.66 393.26 397.07 401.62 410.00" y="24.00 24.00 24.00 24.00 24.00 24.00 24.00 24.00 24.00 24.00 24.00 24.00 24.00 24.00 24.00 24.00 24.00 24.00" font-size="13.6" fill="#ff0000">Lyman<tspan textLength="12.01" lengthAdjust="spacingAndGlyphs">-</tspan>alpha Filter</text>
<text x="480.80 490.10 498.59 505.63 517.29 526.60 535.13 543.36 551.88" y="24.00 24.00 24.00 24.00 24.00 24.00 24.00 24.00 24.00" font-size="13.6" fill="#ff0000">120<tspan textLength="12.01" lengthAdjust="spacingAndGlyphs">-</tspan>123nm</text>
<text x="90.38 100.06 107.87 116.21 124.27 132.15 139.92 142.63 150.38 157.42 169.90" y="208.00 208.00 208.00 208.00 208.00 208.00 208.00 208.00 208.00 208.00 208.00" font-size="13.6" fill="#00ff00">Channel 2<tspan textLength="12.01" lengthAdjust="spacingAndGlyphs">-</tspan>2</text>
<text x="285.45 295.09 303.48 308.46 315.50 323.53 331.91 337.03 344.19 351.50 359.10 362.71 366.52 371.06 379.44" y="208.00 208.00 208.00 208.00 208.00 208.00 208.00 208.00 208.00 208.00 208.00 208.00 208.00 208.00 208.00" font-size="13.6" fill="#00ff00">Herzberg Filter</text>
<text x="480.80 489.89 498.59 505.63 518.12 526.60 535.09 543.36 551.88" y="208.00 208.00 208.00 208.00 208.00 208.00 208.00 208.00 208.00" font-size="13.6" fill="#00ff00">190<tspan textLength="12.01" lengthAdjust="spacingAndGlyphs">-</tspan>222nm</text>
<text x="90.38 100.06 107.87 116.21 124.27 132.15 139.92 142.63 150.38 157.42 169.94" y="392.00 392.00 392.00 392.00 392.00 392.00 392.00 392.00 392.00 392.00 392.00" font-size="13.6" fill="#0000ff">Channel 2<tspan textLength="12.01" lengthAdjust="spacingAndGlyphs">-</tspan>3</text>
<text x="285.36 293.90 297.37 305.88 317.88 321.55 329.34 333.02 341.52 353.06 360.36 367.96 371.57 375.38 379.92 388.30" y="392.00 392.00 392.00 392.00 392.00 392.00 392.00 392.00 392.00 392.00 392.00 392.00 392.00 392.00 392.00 392.00" font-size="13.6" fill="#0000ff">Aluminium Filter</text>
<text x="480.80 490.10 497.14 509.63 518.12 526.38 534.91 546.44 553.76 564.26 571.25 580.84 585.52 593.61" y="392.00 392.00 392.00 392.00 392.00 392.00 392.00 392.00 394.41 392.00 392.00 392.00 392.00 392.00" font-size="13.6" fill="#0000ff">17<tspan textLength="12.01" lengthAdjust="spacingAndGlyphs">-</tspan>80nm <tspan font-size="18.77">+</tspan> Xray</text>
<text x="90.38 100.06 107.87 116.21 124.27 132.15 139.92 142.63 150.38 157.42 170.16" y="576.00 576.00 576.00 576.00 576.00 576.00 576.00 576.00 576.00 576.00 576.00" font-size="13.6" fill="#808080">Channel 2<tspan textLength="12.01" lengthAdjust="spacingAndGlyphs">-</tspan>4</text>
<text x="286.31 294.69 298.91 303.94 311.52 319.57 327.37 331.05 339.55 351.08 358.39 365.99 369.60 373.41 377.95 386.33" y="576.00 576.00 576.00 576.00 576.00 576.00 576.00 576.00 576.00 576.00 576.00 576.00 576.00 576.00 576.00 576.00" font-size="13.6" fill="#808080">Zirconium Filter</text>
<text x="480.92 488.00 500.49 508.98 517.25 525.77 537.30 544.62 555.12 562.11 571.70 576.38 584.47" y="576.00 576.00 576.00 576.00 576.00 576.00 576.00 578.41 576.00 576.00 576.00 576.00 576.00" font-size="13.6" fill="#808080">6<tspan textLength="12.01" lengthAdjust="spacingAndGlyphs">-</tspan>20nm <tspan font-size="18.77">+</tspan> Xray</text>
<text x="25.06 31.81 35.49 42.08" y="15.00 15.00 15.00 15.00" font-size="11.6" fill="#000">6.40</text>
<text x="25.06 31.81 35.33 42.09" y="58.00 58.00 58.00 58.00" font-size="11.6" fill="#000">6.35</text>
<text x="25.06 31.81 35.33 42.08" y="104.00 104.00 104.00 104.00" font-size="11.6" fill="#000">6.30</text>
<text x="25.06 31.81 35.29 42.09" y="150.00 150.00 150.00 150.00" font-size="11.6" fill="#000">6.25</text>
<text x="25.06 31.81 35.29 42.08" y="192.00 192.00 192.00 192.00" font-size="11.6" fill="#000">6.20</text>
<text x="28.49 35.29 42.09" y="223.00 223.00 223.00" font-size="11.6" fill="#000">705</text>
<text x="28.49 35.29 42.08" y="269.00 269.00 269.00" font-size="11.6" fill="#000">700</text>
<text x="28.46 35.12 42.09" y="315.00 315.00 315.00" font-size="11.6" fill="#000">695</text>
<text x="28.46 35.12 42.08" y="361.00 361.00 361.00" font-size="11.6" fill="#000">690</text>
<text x="31.90 38.60 42.04" y="399.00 399.00 399.00" font-size="11.6" fill="#000">2.6</text>
<text x="31.90 38.60 42.09" y="436.00 436.00 436.00" font-size="11.6" fill="#000">2.5</text>
<text x="31.90 38.60 42.28" y="473.00 473.00 473.00" font-size="11.6" fill="#000">2.4</text>
<text x="31.90 38.60 42.12" y="510.00 510.00 510.00" font-size="11.6" fill="#000">2.3</text>
<text x="31.90 38.60 42.08" y="546.00 546.00 546.00" font-size="11.6" fill="#000">2.2</text>
<text x="24.44 31.81 34.62 42.08" y="573.00 573.00 573.00 573.00" font-size="11.6" fill="#000">1.10</text>
<text x="24.44 31.81 35.29 42.09" y="599.00 599.00 599.00 599.00" font-size="11.6" fill="#000">1.05</text>
<text x="24.44 31.81 35.29 42.08" y="625.00 625.00 625.00 625.00" font-size="11.6" fill="#000">1.00</text>
<text x="25.11 31.81 35.12 42.09" y="652.00 652.00 652.00 652.00" font-size="11.6" fill="#000">0.95</text>
<text x="25.11 31.81 35.12 42.08" y="678.00 678.00 678.00 678.00" font-size="11.6" fill="#000">0.90</text>
<text x="25.11 31.81 35.29 42.09" y="704.00 704.00 704.00 704.00" font-size="11.6" fill="#000">0.85</text>
<text x="25.11 31.81 35.29 42.08" y="730.00 730.00 730.00 730.00" font-size="11.6" fill="#000">0.80</text>
<text x="48.22" y="762.00" font-size="13.6" fill="#000">0</text>
<text x="170.23" y="762.00" font-size="13.6" fill="#000">5</text>
<text x="287.15 296.46" y="762.00 762.00" font-size="13.6" fill="#000">10</text>
<text x="409.15 418.48" y="762.00 762.00" font-size="13.6" fill="#000">15</text>
<text x="531.98 540.46" y="762.00 762.00" font-size="13.6" fill="#000">20</text>
<text x="247.87 255.31 259.30 271.22 278.24 286.44 294.11 301.45 308.72 315.58 324.28 331.15 340.73 344.21 351.78 359.92 367.59 374.11 384.69 392.65 398.90 406.47 414.82 423.17 431.52" y="778.00 778.00 778.00 778.00 778.00 780.37 778.00 778.00 778.00 778.00 778.00 778.00 778.00 778.00 778.00 778.00 778.00 778.00 778.00 778.00 778.00 778.00 778.00 778.00 778.00" font-size="13.6" fill="#000">Time <tspan font-size="18.50" rotate="9">/</tspan> h UTC, 29 May 2020</text>
<text x="486.99 494.00 501.94 510.06 516.37 523.37 525.69 532.78 540.69 543.50 549.13 557.06 560.98 567.46 573.23 578.81 585.15 587.83 593.65 596.46 602.09 609.36 615.70 618.48 624.70 627.52 634.23" y="793.00 793.00 793.00 795.17 793.00 793.00 793.00 793.00 793.00 793.00 793.00 793.00 793.00 793.00 793.00 793.00 793.00 793.00 793.00 793.00 793.00 793.00 793.00 793.00 793.00 793.00 793.00" font-size="11.6" fill="#000">ROB<tspan font-size="15.78" rotate="9">/</tspan>SIDC, Brussels, Belgium</text>
<text transform="translate(17.0,180.06) rotate(-90)" x="-0.20 7.39 14.15 16.70 19.38 26.46 30.13 37.20 40.74 47.14 52.96 58.42 65.58 68.53 74.85 81.06 87.82 89.97 96.59 102.87 107.92 113.81 122.33 131.39 137.58 146.35 152.77 156.38" y="0.00 0.00 0.00 0.00 0.00 0.00 0.00 0.00 0.00 0.00 0.00 0.00 0.00 0.00 0.00 0.00 0.00 0.00 2.17 0.00 0.31 0.00 0.00 0.00 0.00 -5.60 -5.60 0.31" font-size="11.6" fill="#000">Calibrated Signal <tspan font-size="15.78" rotate="9">/</tspan> <tspan font-size="12.99">(</tspan>mW m<tspan font-size="7.42"><tspan textLength="6.61" lengthAdjust="spacingAndGlyphs">-</tspan>2</tspan><tspan font-size="12.99">)</tspan></text>
<text transform="translate(20.1,364.06) rotate(-90)" x="-0.20 7.39 14.15 16.70 19.38 26.46 30.13 37.20 40.74 47.14 52.96 58.42 65.58 68.53 74.85 81.06 87.82 89.97 96.59 102.87 107.92 113.81 122.33 131.39 137.58 146.35 152.77 156.38" y="0.00 0.00 0.00 0.00 0.00 0.00 0.00 0.00 0.00 0.00 0.00 0.00 0.00 0.00 0.00 0.00 0.00 0.00 2.17 0.00 0.31 0.00 0.00 0.00 0.00 -5.60 -5.60 0.31" font-size="11.6" fill="#000">Calibrated Signal <tspan font-size="15.78" rotate="9">/</tspan> <tspan font-size="12.99">(</tspan>mW m<tspan font-size="7.42"><tspan textLength="6.61" lengthAdjust="spacingAndGlyphs">-</tspan>2</tspan><tspan font-size="12.99">)</tspan></text>
<text transform="translate(23.2,548.06) rotate(-90)" x="-0.20 7.39 14.15 16.70 19.38 26.46 30.13 37.20 40.74 47.14 52.96 58.42 65.58 68.53 74.85 81.06 87.82 89.97 96.59 102.87 107.92 113.81 122.33 131.39 137.58 146.35 152.77 156.38" y="0.00 0.00 0.00 0.00 0.00 0.00 0.00 0.00 0.00 0.00 0.00 0.00 0.00 0.00 0.00 0.00 0.00 0.00 2.17 0.00 0.31 0.00 0.00 0.00 0.00 -5.60 -5.60 0.31" font-size="11.6" fill="#000">Calibrated Signal <tspan font-size="15.78" rotate="9">/</tspan> <tspan font-size="12.99">(</tspan>mW m<tspan font-size="7.42"><tspan textLength="6.61" lengthAdjust="spacingAndGlyphs">-</tspan>2</tspan><tspan font-size="12.99">)</tspan></text>
<text transform="translate(17.0,732.06) rotate(-90)" x="-0.20 7.39 14.15 16.70 19.38 26.46 30.13 37.20 40.74 47.14 52.96 58.42 65.58 68.53 74.85 81.06 87.82 89.97 96.59 102.87 107.92 113.81 122.33 131.39 137.58 146.35 152.77 156.38" y="0.00 0.00 0.00 0.00 0.00 0.00 0.00 0.00 0.00 0.00 0.00 0.00 0.00 0.00 0.00 0.00 0.00 0.00 2.17 0.00 0.31 0.00 0.00 0.00 0.00 -5.60 -5.60 0.31" font-size="11.6" fill="#000">Calibrated Signal <tspan font-size="15.78" rotate="9">/</tspan> <tspan font-size="12.99">(</tspan>mW m<tspan font-size="7.42"><tspan textLength="6.61" lengthAdjust="spacingAndGlyphs">-</tspan>2</tspan><tspan font-size="12.99">)</tspan></text>
</g></svg>
</body></html>
